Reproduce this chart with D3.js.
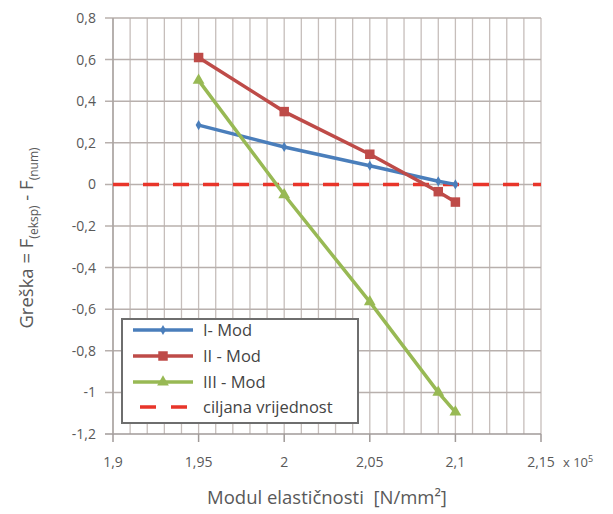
<!DOCTYPE html>
<html>
<head>
<meta charset="utf-8">
<script src="https://d3js.org/d3.v7.min.js"></script>
<style>
  body { margin: 0; background: #fff; }
  text { font-family: "Open Sans", "DejaVu Sans", sans-serif; fill: #595959; }
</style>
</head>
<body>
<div id="chart"></div>
<script>
// data
var xValues = [1.95, 2.0, 2.05, 2.09, 2.1];
var mod1 = [0.285, 0.18, 0.09, 0.015, 0.0];
var mod2 = [0.61, 0.35, 0.145, -0.035, -0.085];
var mod3 = [0.5, -0.05, -0.565, -1.0, -1.095];
var targetValue = 0;
var xTicks = [1.9, 1.95, 2.0, 2.05, 2.1, 2.15];
var yTicks = [-1.2, -1, -0.8, -0.6, -0.4, -0.2, 0, 0.2, 0.4, 0.6, 0.8];
var seriesNames = ["I- Mod", "II - Mod", "III - Mod", "ciljana vrijednost"];

var drawChart = function() {
  var width = 613, height = 514;
  var pLeft = 113, pRight = 541, pTop = 18, pBottom = 434;

  var x = d3.scaleLinear().domain([1.9, 2.15]).range([pLeft, pRight]);
  var y = d3.scaleLinear().domain([-1.2, 0.8]).range([pBottom, pTop]);

  var fmt = function(v) { return String(+v.toFixed(2)).replace(".", ","); };

  var svg = d3.select("#chart").append("svg")
    .attr("width", width)
    .attr("height", height);

  // vertical grid every 0.01
  var minor = d3.range(0, 26).map(function(i) { return 1.9 + i * 0.01; });
  svg.append("g").selectAll("line")
    .data(minor)
    .enter().append("line")
    .attr("x1", function(d) { return x(d); })
    .attr("x2", function(d) { return x(d); })
    .attr("y1", pTop)
    .attr("y2", pBottom)
    .style("stroke", "#c6bebb")
    .style("stroke-width", 1.3);

  // horizontal grid + left ticks
  svg.append("g").selectAll("line")
    .data(yTicks)
    .enter().append("line")
    .attr("x1", pLeft - 8)
    .attr("x2", pRight)
    .attr("y1", function(d) { return y(d); })
    .attr("y2", function(d) { return y(d); })
    .style("stroke", function(d) { return d === -1.2 ? "#a09a98" : "#b8b0ad"; })
    .style("stroke-width", 1.5);

  // y axis line
  svg.append("line")
    .attr("x1", pLeft).attr("x2", pLeft)
    .attr("y1", pTop).attr("y2", pBottom)
    .style("stroke", "#aaa4a2").style("stroke-width", 1.5);

  // x axis major ticks
  svg.append("g").selectAll("line")
    .data(xTicks)
    .enter().append("line")
    .attr("x1", function(d) { return x(d); })
    .attr("x2", function(d) { return x(d); })
    .attr("y1", pBottom)
    .attr("y2", pBottom + 8)
    .style("stroke", "#a09a98")
    .style("stroke-width", 1.5);

  // tick labels
  svg.append("g").selectAll("text")
    .data(yTicks)
    .enter().append("text")
    .attr("x", 96)
    .attr("y", function(d) { return y(d) + 5; })
    .attr("text-anchor", "end")
    .style("font-size", "14px")
    .text(fmt);

  svg.append("g").selectAll("text")
    .data(xTicks)
    .enter().append("text")
    .attr("x", function(d) { return x(d); })
    .attr("y", 467)
    .attr("text-anchor", "middle")
    .style("font-size", "14px")
    .text(fmt);

  var mult = svg.append("text")
    .attr("x", 563).attr("y", 467)
    .style("font-size", "13px");
  mult.append("tspan").text("x 10");
  mult.append("tspan").attr("dy", -5).style("font-size", "9px").text("5");

  // axis titles
  svg.append("text")
    .attr("x", 327).attr("y", 504)
    .attr("text-anchor", "middle")
    .style("font-size", "18.5px")
    .text("Modul elastičnosti\u00a0\u00a0[N/mm²]");

  var yt = svg.append("text")
    .attr("transform", "translate(33,238) rotate(-90)")
    .attr("text-anchor", "middle")
    .style("font-size", "18.5px");
  yt.append("tspan").text("Greška = F");
  yt.append("tspan").attr("dy", 5).style("font-size", "12px").text("(eksp)");
  yt.append("tspan").attr("dy", -5).text(" - F");
  yt.append("tspan").attr("dy", 5).style("font-size", "12px").text("(num)");

  // target dashed line
  svg.append("line")
    .attr("x1", x(1.9)).attr("x2", x(2.15))
    .attr("y1", y(targetValue)).attr("y2", y(targetValue))
    .style("stroke", "#e8352a")
    .style("stroke-width", 3.5)
    .style("stroke-dasharray", "16,14");

  var series = [
    { values: mod1, color: "#4a7ebb", shape: d3.symbolDiamond, size: 30 },
    { values: mod2, color: "#be4b48", shape: d3.symbolSquare, size: 90 },
    { values: mod3, color: "#98b954", shape: d3.symbolTriangle, size: 60 }
  ];

  var line = d3.line()
    .x(function(d) { return x(d[0]); })
    .y(function(d) { return y(d[1]); });

  series.forEach(function(s) {
    var pts = xValues.map(function(v, i) { return [v, s.values[i]]; });
    svg.append("path")
      .datum(pts)
      .attr("d", line)
      .style("fill", "none")
      .style("stroke", s.color)
      .style("stroke-width", 3.5);
    svg.append("g").selectAll("path")
      .data(pts)
      .enter().append("path")
      .attr("d", d3.symbol().type(s.shape).size(s.size))
      .attr("transform", function(d) { return "translate(" + x(d[0]) + "," + y(d[1]) + ")"; })
      .style("fill", s.color);
  });

  // legend
  var lg = svg.append("g");
  lg.append("rect")
    .attr("x", 122).attr("y", 319)
    .attr("width", 236).attr("height", 104)
    .style("fill", "#fff")
    .style("stroke", "#6e6e6e")
    .style("stroke-width", 2);

  var rows = [330, 356, 382, 407];
  series.forEach(function(s, i) {
    lg.append("line")
      .attr("x1", 133).attr("x2", 193)
      .attr("y1", rows[i]).attr("y2", rows[i])
      .style("stroke", s.color).style("stroke-width", 3.5);
    lg.append("path")
      .attr("d", d3.symbol().type(s.shape).size(s.size))
      .attr("transform", "translate(163," + rows[i] + ")")
      .style("fill", s.color);
  });
  lg.append("line")
    .attr("x1", 140).attr("x2", 187)
    .attr("y1", rows[3]).attr("y2", rows[3])
    .style("stroke", "#e8352a").style("stroke-width", 3.5)
    .style("stroke-dasharray", "16,15");

  lg.selectAll("text.lbl")
    .data(seriesNames)
    .enter().append("text")
    .attr("class", "lbl")
    .attr("x", 203)
    .attr("y", function(d, i) { return rows[i] + 5.5; })
    .style("font-size", "16.5px")
    .style("fill", "#444")
    .text(function(d) { return d; });
};

drawChart();
</script>
</body>
</html>
